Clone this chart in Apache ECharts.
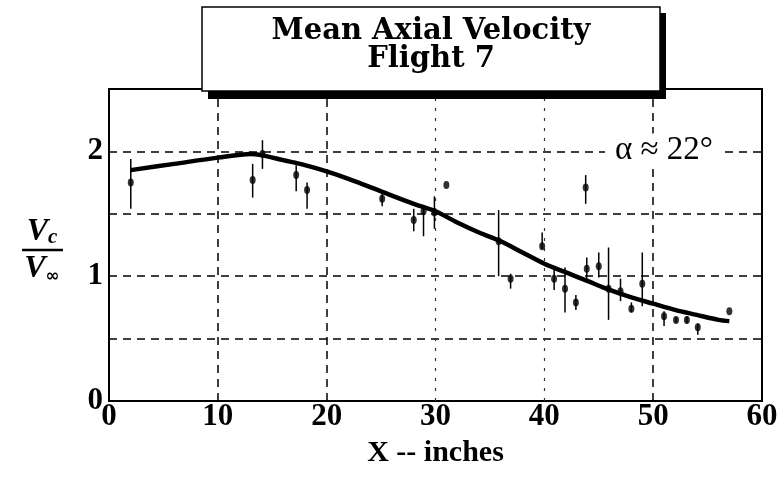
<!DOCTYPE html>
<html>
<head>
<meta charset="utf-8">
<script src="https://cdn.jsdelivr.net/npm/echarts@6/dist/echarts.min.js"></script>
<style>
html,body{margin:0;padding:0;background:#fff;}
#c{width:781px;height:477px;}
</style>
</head>
<body>
<div id="c"></div>
<script>
// Measured data points (X inches, Vc/Vinf) with error-bar extents
var pointX   = [2,    13.2, 14.1, 17.2, 18.2, 25.1, 28.0, 28.9, 29.9, 31.0, 35.8, 36.9, 39.8, 40.9, 41.9, 42.9, 43.8, 43.9, 45.0, 45.9, 47.0, 48.0, 49.0, 51.0, 52.1, 53.1, 54.1, 57.0];
var pointY   = [1.75, 1.77, 1.98, 1.81, 1.69, 1.62, 1.45, 1.52, 1.51, 1.73, 1.28, 0.98, 1.24, 0.98, 0.90, 0.79, 1.71, 1.06, 1.08, 0.90, 0.88, 0.74, 0.94, 0.68, 0.65, 0.65, 0.59, 0.72];
var pointLow = [1.54, 1.63, 1.86, 1.68, 1.54, 1.56, 1.36, 1.32, 1.38, 1.73, 1.00, 0.90, 1.22, 0.89, 0.71, 0.73, 1.58, 0.98, 0.99, 0.65, 0.80, 0.71, 0.76, 0.60, 0.63, 0.62, 0.53, 0.72];
var pointHigh= [1.94, 1.90, 2.09, 1.89, 1.75, 1.68, 1.54, 1.54, 1.64, 1.73, 1.53, 1.02, 1.35, 1.08, 1.07, 0.85, 1.81, 1.15, 1.19, 1.23, 0.98, 0.79, 1.19, 0.72, 0.67, 0.68, 0.62, 0.72];

// Fitted mean curve
var curveX = [2,    6,    10,   13,   14,   16,   18,   20,   22,   25,   28,   30,   32,   34,   36,   38,   40,   42,   44,   46,   48,   50,   52,   54,   56,   57];
var curveY = [1.85, 1.90, 1.95, 1.98, 1.97, 1.93, 1.89, 1.84, 1.78, 1.68, 1.58, 1.52, 1.43, 1.35, 1.28, 1.19, 1.10, 1.03, 0.96, 0.89, 0.83, 0.78, 0.73, 0.69, 0.65, 0.64];

// Axis ticks
var xTicks = [0, 10, 20, 30, 40, 50, 60];
var yLabelTicks = [0, 1, 2];
var dashedX = [10, 20, 50];
var dottedX = [30, 40];

var titleLines = ['Mean Axial Velocity', 'Flight 7'];
var xName = 'X -- inches';
var alphaText = 'α ≈ 22°';

var chart = echarts.init(document.getElementById('c'));

var scatterData = pointX.map(function (x, i) { return [x, pointY[i]]; });
var errData = pointX.map(function (x, i) { return [x, pointLow[i], pointHigh[i]]; });
var curveData = curveX.map(function (x, i) { return [x, curveY[i]]; });

var option = {
  animation: false,
  backgroundColor: '#fff',
  grid: { left: 109, right: 19, top: 89, bottom: 76, show: true, borderColor: '#000', borderWidth: 2, backgroundColor: 'transparent' },
  xAxis: {
    type: 'value', min: xTicks[0], max: xTicks[xTicks.length - 1], interval: 10,
    axisLine: { show: false }, axisTick: { show: false },
    splitLine: { show: false },
    axisLabel: { color: '#000', fontFamily: 'Liberation Serif', fontWeight: 'bold', fontSize: 31, margin: 0 },
    name: xName, nameLocation: 'middle', nameGap: 37,
    nameTextStyle: { color: '#000', fontFamily: 'Liberation Serif', fontWeight: 'bold', fontSize: 30 }
  },
  yAxis: {
    type: 'value', min: 0, max: 2.5, interval: 0.5,
    axisLine: { show: false }, axisTick: { show: false },
    splitLine: { show: true, lineStyle: { color: '#000', width: 1.5, type: [8, 6] } },
    axisLabel: {
      color: '#000', fontFamily: 'Liberation Serif', fontWeight: 'bold', fontSize: 31, margin: 6,
      formatter: function (v) { return yLabelTicks.indexOf(v) >= 0 ? String(v) : ''; }
    }
  },
  series: [
    {
      type: 'line', data: [], silent: true,
      markLine: {
        symbol: 'none', silent: true, label: { show: false },
        data: dashedX.map(function (x) { return { xAxis: x, lineStyle: { color: '#000', width: 1.5, type: [8, 6] } }; })
          .concat(dottedX.map(function (x) { return { xAxis: x, lineStyle: { color: '#333', width: 1.2, type: [3, 7] } }; }))
      }
    },
    {
      type: 'custom', data: errData, z: 3,
      renderItem: function (params, api) {
        var p1 = api.coord([api.value(0), api.value(1)]);
        var p2 = api.coord([api.value(0), api.value(2)]);
        return { type: 'line', shape: { x1: p1[0], y1: p1[1], x2: p2[0], y2: p2[1] }, style: { stroke: '#000', lineWidth: 1.5 } };
      }
    },
    {
      type: 'scatter', data: scatterData, symbol: 'circle', symbolSize: [6, 8], z: 4,
      itemStyle: { color: '#000' }
    },
    {
      type: 'line', data: curveData, smooth: 0.3, showSymbol: false, z: 5,
      lineStyle: { color: '#000', width: 4.5 }
    }
  ],
  graphic: [
    { type: 'rect', z: 100, shape: { x: 208, y: 13, width: 458, height: 86 }, style: { fill: '#000' } },
    { type: 'rect', z: 101, shape: { x: 202, y: 7, width: 458, height: 84 }, style: { fill: '#fff', stroke: '#000', lineWidth: 1.5 } },
    { type: 'text', z: 102, x: 431, y: 31, style: { text: titleLines[0], fill: '#000', font: 'bold 29px "DejaVu Serif"', textAlign: 'center', textVerticalAlign: 'middle' } },
    { type: 'text', z: 102, x: 431, y: 59, style: { text: titleLines[1], fill: '#000', font: 'bold 29px "DejaVu Serif"', textAlign: 'center', textVerticalAlign: 'middle' } },
    { type: 'text', z: 102, x: 664, y: 150, style: { text: alphaText, fill: '#000', font: '33px "Liberation Serif"', textAlign: 'center', textVerticalAlign: 'middle', backgroundColor: '#fff', padding: [0, 10] } },
    { type: 'text', z: 102, x: 42, y: 232, style: { rich: { v: { font: 'bold italic 32px "Liberation Serif"', fill: '#000' }, s: { font: 'bold italic 21px "Liberation Serif"', fill: '#000', verticalAlign: 'bottom' } }, text: '{v|V}{s|c}', textAlign: 'center', textVerticalAlign: 'middle' } },
    { type: 'line', z: 102, shape: { x1: 22, y1: 250, x2: 63, y2: 250 }, style: { stroke: '#000', lineWidth: 2.5 } },
    { type: 'text', z: 102, x: 42, y: 269, style: { rich: { v: { font: 'bold italic 32px "Liberation Serif"', fill: '#000' }, s: { font: 'bold 17px "DejaVu Sans"', fill: '#000', verticalAlign: 'bottom' } }, text: '{v|V}{s|∞}', textAlign: 'center', textVerticalAlign: 'middle' } }
  ]
};
chart.setOption(option);
</script>
</body>
</html>
